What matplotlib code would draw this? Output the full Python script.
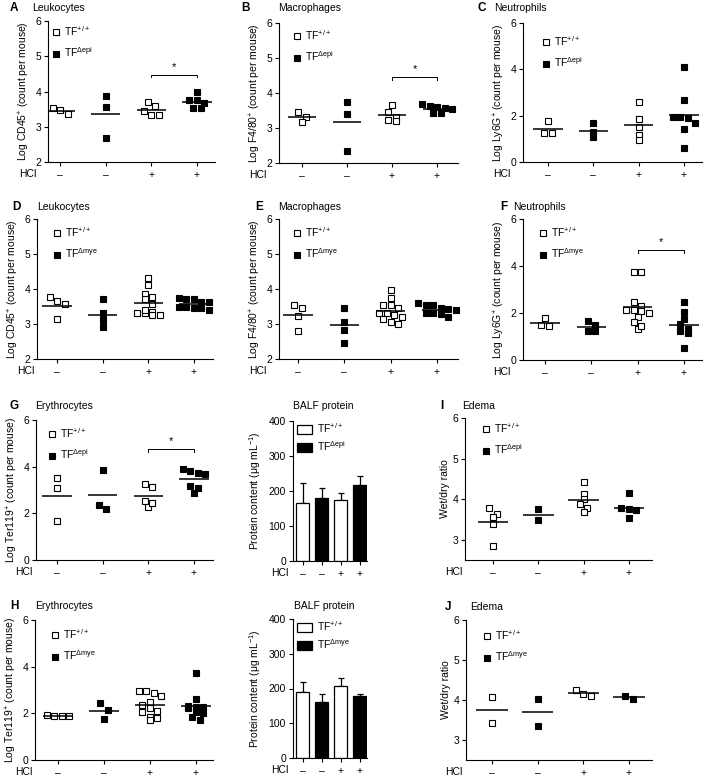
import matplotlib
matplotlib.use("Agg")
import matplotlib.pyplot as plt
from matplotlib.lines import Line2D
from matplotlib.patches import Patch
import numpy as np

plt.rcParams["font.family"] = ["Liberation Sans", "DejaVu Sans"]
plt.rcParams["mathtext.fontset"] = "custom"
plt.rcParams["mathtext.rm"] = "Liberation Sans"
plt.rcParams["mathtext.it"] = "Liberation Sans:italic"
plt.rcParams["mathtext.default"] = "regular"
plt.rcParams["font.size"] = 7.5

W, H, DPI = 709, 778, 100

hcl = ["–", "–", "+", "+"]
wt_label = r"TF$^{+/+}$"
epi_label = r"TF$^{\Delta epi}$"
mye_label = r"TF$^{\Delta mye}$"

# per-mouse values, groups: TF+/+ HCl-, TF-KO HCl-, TF+/+ HCl+, TF-KO HCl+
leuko_epi = [[3.53, 3.36, 3.48], [3.86, 3.56, 2.68],
             [3.45, 3.70, 3.59, 3.34, 3.34], [3.98, 3.67, 3.76, 3.76, 3.53, 3.53]]
macro_epi = [[3.47, 3.31, 3.18], [3.75, 3.40, 2.35],
             [3.66, 3.45, 3.31, 3.20, 3.23], [3.68, 3.63, 3.58, 3.55, 3.61, 3.42, 3.42]]
neutro_epi = [[1.75, 1.25, 1.25], [1.68, 1.28, 1.07],
              [2.61, 1.85, 1.49, 1.15, 0.96],
              [4.11, 2.68, 1.93, 1.89, 1.93, 1.70, 1.42, 0.60]]
leuko_mye = [[3.66, 3.76, 3.56, 3.13], [3.71, 3.32, 3.11, 2.90],
             [4.32, 4.10, 3.87, 3.77, 3.70, 3.56, 3.32, 3.32, 3.34, 3.25, 3.25, 3.40],
             [3.70, 3.70, 3.73, 3.63, 3.63, 3.49, 3.49, 3.39, 3.47, 3.47]]
macro_mye = [[3.47, 3.55, 3.23, 2.80], [3.47, 3.06, 2.84, 2.47],
             [3.98, 3.75, 3.54, 3.54, 3.46, 3.27, 3.30, 3.30, 3.20, 3.13, 3.01, 3.06],
             [3.60, 3.54, 3.44, 3.54, 3.41, 3.30, 3.20, 3.30, 3.28, 3.45]]
neutro_mye = [[1.79, 1.45, 1.48], [1.48, 1.66, 1.22, 1.23],
              [3.75, 3.75, 2.47, 2.29, 2.09, 2.00, 2.14, 2.14, 1.83, 1.62, 1.33, 1.45],
              [2.47, 2.05, 1.76, 1.52, 1.23, 1.16, 1.30, 0.51]]
ery_epi = [[3.50, 3.10, 1.67], [3.86, 2.17, 2.36],
           [3.24, 3.11, 2.54, 2.29, 2.43], [3.90, 3.71, 3.67, 3.81, 3.19, 3.07, 2.86]]
ery_mye = [[1.88, 1.88, 1.88, 1.92], [2.43, 2.14, 1.76],
           [2.89, 2.96, 2.96, 2.74, 2.50, 2.24, 2.36, 2.11, 2.04, 1.86, 1.79, 1.71],
           [3.74, 2.60, 2.31, 2.21, 2.29, 2.29, 2.00, 2.07, 1.86, 1.71]]
edema_epi = [[3.64, 3.56, 3.78, 3.38, 2.84], [3.76, 3.48],
             [4.43, 4.13, 4.01, 3.88, 3.78, 3.68], [4.16, 3.78, 3.73, 3.76, 3.53]]
edema_mye = [[4.08, 3.42], [4.03, 3.36], [4.25, 4.10, 4.14], [4.03, 4.10]]

balf_epi_mean = [165, 180, 173, 218]
balf_epi_sem = [57, 30, 20, 24]
balf_mye_mean = [190, 160, 207, 178]
balf_mye_sem = [28, 23, 23, 5]

# significance bracket heights
sig_leuko_epi = 4.47
sig_macro_epi = 4.45
sig_neutro_mye = 4.68
sig_ery_epi = 4.74


def px_axes(fig, left, top, right, bottom):
    return fig.add_axes([left / W, 1 - bottom / H, (right - left) / W, (bottom - top) / H])


def style_axes(ax):
    for side in ("top", "right"):
        ax.spines[side].set_visible(False)
    for side in ("left", "bottom"):
        ax.spines[side].set_linewidth(0.8)
    ax.tick_params(direction="out", length=3, width=0.8, labelsize=7.5, pad=2)
    ax.tick_params(axis="x", pad=3)
    ax.patch.set_alpha(0)


def row_scatter(ax, center, vals, xstep, row_h):
    # GraphPad-like column scatter: points binned into rows, each row centred
    x0, x1 = ax.get_xlim()
    y0, y1 = ax.get_ylim()
    bb = ax.get_position()
    sx = bb.width * W / (x1 - x0)
    sy = bb.height * H / (y1 - y0)
    vals = np.asarray(vals)
    rows = np.floor((vals.max() - vals) * sy / row_h).astype(int)
    xs = np.zeros(len(vals))
    for r in np.unique(rows):
        idx = np.where(rows == r)[0]
        idx = idx[np.argsort(-vals[idx], kind="stable")]
        n = len(idx)
        for j, i in enumerate(idx):
            xs[i] = center + (j - (n - 1) / 2) * xstep / sx
    return xs


def add_hcl(ax, dx):
    ax.annotate("HCl", xy=(0, 0), xycoords="axes fraction", xytext=(-dx, -12),
                textcoords="offset pixels", ha="right", va="center", fontsize=7.5)


def scatter_panel(fig, box, ticks_px, ylim, yticks, groups, ylabel, ko_label,
                  leg_off, hcl_dx, sig=None, ms=4.4, xstep=7.5, row_h=7.0, half=0.32):
    left, top, right, bottom = box
    ax = px_axes(fig, *box)
    unit = (ticks_px[1] - ticks_px[0]) / 3
    ax.set_xlim(1 - (ticks_px[0] - left) / unit, 4 + (right - ticks_px[1]) / unit)
    ax.set_ylim(*ylim)
    ax.set_yticks(yticks)
    ax.set_xticks([1, 2, 3, 4])
    ax.set_xticklabels(hcl)
    style_axes(ax)
    for k, vals in enumerate(groups):
        xc = k + 1
        xs = row_scatter(ax, xc, vals, xstep, row_h)
        filled = k % 2 == 1
        ax.plot(xs, vals, ls="none", marker="s", ms=ms, mec="black", mew=0.8,
                mfc="black" if filled else "white", zorder=2, clip_on=False)
        ax.hlines(np.mean(vals), xc - half, xc + half, color="black", lw=1.1, zorder=3)
    if sig is not None:
        d = (ylim[1] - ylim[0]) * 0.018
        ax.plot([3, 3, 4, 4], [sig - d, sig, sig, sig - d], color="black", lw=0.7)
        ax.text(3.5, sig + d * 1.2, "*", ha="center", va="bottom", fontsize=8)
    ax.set_ylabel(ylabel, fontsize=7.5, labelpad=2)
    handles = [Line2D([], [], ls="none", marker="s", ms=ms, mec="black", mew=0.8, mfc="white"),
               Line2D([], [], ls="none", marker="s", ms=ms, mec="black", mew=0.8, mfc="black")]
    ax.legend(handles, [wt_label, ko_label], loc="upper left", frameon=False,
              bbox_to_anchor=((leg_off[0] - 4) / (right - left), 1 - (leg_off[1] - 6) / (bottom - top)),
              borderpad=0, borderaxespad=0, handlelength=0.8, handletextpad=0.35,
              labelspacing=0.75, fontsize=7.5)
    add_hcl(ax, hcl_dx)
    return ax


def bar_panel(fig, box, means, sems, ko_label):
    left, top, right, bottom = box
    ax = px_axes(fig, *box)
    x = np.arange(1, 5)
    colors = ["white", "black", "white", "black"]
    ax.bar(x, means, width=0.68, color=colors, edgecolor="black", linewidth=0.9, zorder=2)
    ax.errorbar(x, means, yerr=[np.zeros(4), sems], fmt="none", ecolor="black",
                elinewidth=0.9, capsize=2.5, capthick=0.9, zorder=1)
    ax.set_xlim(0.5, 4.38)
    ax.set_ylim(0, 400)
    ax.set_yticks([0, 100, 200, 300, 400])
    ax.set_xticks(x)
    ax.set_xticklabels(hcl)
    style_axes(ax)
    ax.set_ylabel(r"Protein content (μg mL$^{-1}$)", fontsize=7.5, labelpad=4)
    handles = [Patch(facecolor="white", edgecolor="black", lw=0.9),
               Patch(facecolor="black", edgecolor="black", lw=0.9)]
    ax.legend(handles, [wt_label, ko_label], loc="upper left", frameon=False,
              bbox_to_anchor=(4 / (right - left), 1.0), borderpad=0, borderaxespad=0,
              handlelength=1.4, handleheight=0.9, handletextpad=0.5, labelspacing=0.45,
              fontsize=7.5)
    add_hcl(ax, 5)
    return ax


def header(fig, letter, lx, title, tx, y, center=False):
    if letter:
        fig.text(lx / W, 1 - y / H, letter, fontsize=8.5, fontweight="bold", va="center")
    fig.text(tx / W, 1 - y / H, title, fontsize=7.5, va="center",
             ha="center" if center else "left")


fig = plt.figure(figsize=(W / DPI, H / DPI), dpi=DPI)

# row 1: TF delta-epi
scatter_panel(fig, (48, 21, 215, 162), (60, 197), (2, 6), [2, 3, 4, 5, 6], leuko_epi,
              r"Log CD45$^{+}$ (count per mouse)", epi_label, (8, 9), 12, sig_leuko_epi)
scatter_panel(fig, (279, 23, 458, 163), (302, 437), (2, 6), [2, 3, 4, 5, 6], macro_epi,
              r"Log F4/80$^{+}$ (count per mouse)", epi_label, (18, 11), 12, sig_macro_epi)
scatter_panel(fig, (523, 23, 702, 162), (548, 684), (0, 6), [0, 2, 4, 6], neutro_epi,
              r"Log Ly6G$^{+}$ (count per mouse)", epi_label, (23, 17), 13)
header(fig, "A", 10, "Leukocytes", 32, 8)
header(fig, "B", 241, "Macrophages", 278, 8)
header(fig, "C", 478, "Neutrophils", 494, 8)

# row 2: TF delta-mye
scatter_panel(fig, (37, 219, 213, 359), (57, 194), (2, 6), [2, 3, 4, 5, 6], leuko_mye,
              r"Log CD45$^{+}$ (count per mouse)", mye_label, (20, 12), 3)
scatter_panel(fig, (279, 219, 458, 359), (298, 437), (2, 6), [2, 3, 4, 5, 6], macro_mye,
              r"Log F4/80$^{+}$ (count per mouse)", mye_label, (18, 12), 12)
scatter_panel(fig, (523, 219, 702, 360), (545, 684), (0, 6), [0, 2, 4, 6], neutro_mye,
              r"Log Ly6G$^{+}$ (count per mouse)", mye_label, (20, 12), 13, sig_neutro_mye)
header(fig, "D", 12, "Leukocytes", 37, 207)
header(fig, "E", 255, "Macrophages", 278, 207)
header(fig, "F", 500, "Neutrophils", 513, 207)

# row 3: erythrocytes, BALF protein, edema (delta-epi)
scatter_panel(fig, (36, 420, 213, 560), (57, 194), (0, 6), [0, 2, 4, 6], ery_epi,
              r"Log Ter119$^{+}$ (count per mouse)", epi_label, (16, 12), 3, sig_ery_epi)
bar_panel(fig, (293, 421, 367, 561), balf_epi_mean, balf_epi_sem, epi_label)
scatter_panel(fig, (465, 418, 652, 560), (493, 629), (2.5, 6), [3, 4, 5, 6], edema_epi,
              "Wet/dry ratio", epi_label, (21, 9), 3, ms=4.0, xstep=7.5, row_h=7.0, half=0.34)
header(fig, "G", 10, "Erythrocytes", 35, 406)
header(fig, None, 0, "BALF protein", 323, 406, center=True)
header(fig, "I", 440, "Edema", 462, 406)

# row 4: erythrocytes, BALF protein, edema (delta-mye)
scatter_panel(fig, (35, 620, 213, 760), (58, 196), (0, 6), [0, 2, 4, 6], ery_mye,
              r"Log Ter119$^{+}$ (count per mouse)", mye_label, (20, 13), 3)
bar_panel(fig, (293, 619, 367, 758), balf_mye_mean, balf_mye_sem, mye_label)
scatter_panel(fig, (466, 620, 652, 760), (492, 629), (2.5, 6), [3, 4, 5, 6], edema_mye,
              "Wet/dry ratio", mye_label, (21, 14), 3, ms=4.0, xstep=7.5, row_h=7.0, half=0.34)
header(fig, "H", 10, "Erythrocytes", 35, 606)
header(fig, None, 0, "BALF protein", 324, 606, center=True)
header(fig, "J", 445, "Edema", 470, 607)

fig.savefig("out.png", dpi=DPI)
